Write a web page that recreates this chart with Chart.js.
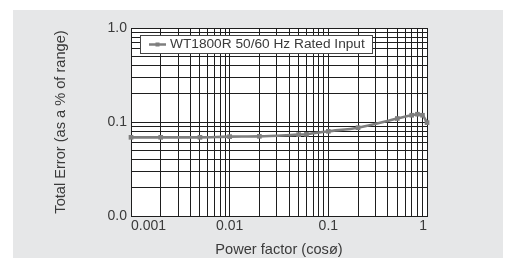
<!DOCTYPE html>
<html>
<head>
<meta charset="utf-8">
<script src="https://cdn.jsdelivr.net/npm/chart.js@4"></script>
<style>
  html, body { margin: 0; padding: 0; background: #fff; }
  #wrap { position: absolute; left: 0; top: 0; width: 509px; height: 264px; }
</style>
</head>
<body>
<div id="wrap"><canvas id="chart" width="509" height="264"></canvas></div>
<script>
// Power factor (x) and total error in % of range (y)
var powerFactor = [0.001, 0.002, 0.005, 0.01, 0.02, 0.05, 0.06, 0.1, 0.2, 0.5, 0.7, 0.8, 0.9, 1.0];
var totalError  = [0.0687, 0.0687, 0.0687, 0.0699, 0.0704, 0.0734, 0.074, 0.0796, 0.087, 0.109, 0.118, 0.121, 0.118, 0.0985];
var seriesLabel = 'WT1800R 50/60 Hz Rated Input';

// labelled ticks
var xTickLabels = [0.001, 0.01, 0.1, 1];
var yTickLabels = [0.01, 0.1, 1];

// minor grid lines: 1..9 per decade between the labelled ticks
function decadeTicks(decades) {
    var out = [];
    for (var i = 0; i < decades.length - 1; i++) {
        for (var k = 1; k <= 9; k++) out.push({ value: +(decades[i] * k).toPrecision(3) });
    }
    out.push({ value: decades[decades.length - 1] });
    return out;
}

var FONT = '"Liberation Sans", Arial, sans-serif';
var GRID = '#1e1e1e';
var TEXT = '#3a3a3a';
var LINE = '#7e7e7e';

// grey panel behind the chart
var panelPlugin = {
    id: 'panel',
    beforeDraw: function (chart) {
        var c = chart.ctx;
        c.save();
        c.fillStyle = '#e6e7e8';
        c.fillRect(13, 10, 490, 248);
        var a = chart.chartArea;
        c.fillStyle = '#ffffff';
        c.fillRect(a.left, a.top, a.right - a.left, a.bottom - a.top);
        c.restore();
    }
};

// boxed legend inside the plot, top left
var boxLegend = {
    id: 'boxLegend',
    afterDatasetsDraw: function (chart) {
        var c = chart.ctx, a = chart.chartArea;
        var ds = chart.data.datasets[0];
        var x = a.left + 9, y = a.top + 7, w = 232, h = 18;
        c.save();
        c.fillStyle = '#ffffff';
        c.fillRect(x, y, w, h);
        c.strokeStyle = '#444';
        c.lineWidth = 1;
        c.strokeRect(x + 0.5, y + 0.5, w, h);
        var my = y + h / 2 + 0.5;
        c.strokeStyle = ds.borderColor;
        c.lineWidth = 2.5;
        c.beginPath(); c.moveTo(x + 9, my); c.lineTo(x + 26, my); c.stroke();
        c.fillStyle = ds.borderColor;
        c.fillRect(x + 15.5, my - 2, 4, 4);
        c.fillStyle = TEXT;
        c.font = '13.7px ' + FONT;
        c.textBaseline = 'middle';
        c.fillText(ds.label, x + 30, my);
        c.restore();
    }
};

var points = powerFactor.map(function (x, i) { return { x: x, y: totalError[i] }; });

new Chart(document.getElementById('chart').getContext('2d'), {
    type: 'line',
    data: {
        datasets: [{
            label: seriesLabel,
            data: points,
            borderColor: LINE,
            backgroundColor: LINE,
            borderWidth: 2.6,
            pointStyle: 'rect',
            pointRadius: 3.3,
            pointBorderWidth: 0,
            tension: 0.3,
            clip: false
        }]
    },
    options: {
        responsive: false, animation: false,
        layout: { padding: { left: 48, top: 28, right: 82, bottom: 1 } },
        plugins: { legend: { display: false }, tooltip: { enabled: false } },
        scales: {
            x: {
                type: 'logarithmic', min: 0.001, max: 1,
                afterBuildTicks: function (s) { s.ticks = decadeTicks(xTickLabels); },
                afterFit: function (s) { s.height = 47; },
                grid: { color: GRID, lineWidth: 1, drawTicks: false },
                border: { color: GRID },
                ticks: {
                    autoSkip: false, maxRotation: 0, align: 'inner', padding: 2,
                    color: TEXT, font: { family: FONT, size: 14 },
                    callback: function (v) { return xTickLabels.indexOf(v) >= 0 ? String(v) : ''; }
                },
                title: { display: true, text: 'Power factor (cos\u00F8)', color: TEXT,
                         font: { family: FONT, size: 14.6 } }
            },
            y: {
                type: 'logarithmic', min: 0.01, max: 1,
                afterBuildTicks: function (s) { s.ticks = decadeTicks(yTickLabels); },
                afterFit: function (s) { s.width = 83; },
                grid: { color: GRID, lineWidth: 1, drawTicks: false },
                border: { color: GRID },
                ticks: {
                    autoSkip: false, padding: 4,
                    color: TEXT, font: { family: FONT, size: 14 },
                    callback: function (v) { return yTickLabels.indexOf(v) >= 0 ? v.toFixed(1) : ''; }
                },
                title: { display: true, text: 'Total Error (as a % of range)', color: TEXT,
                         font: { family: FONT, size: 14.6 } }
            }
        }
    },
    plugins: [panelPlugin, boxLegend]
});
</script>
</body>
</html>
